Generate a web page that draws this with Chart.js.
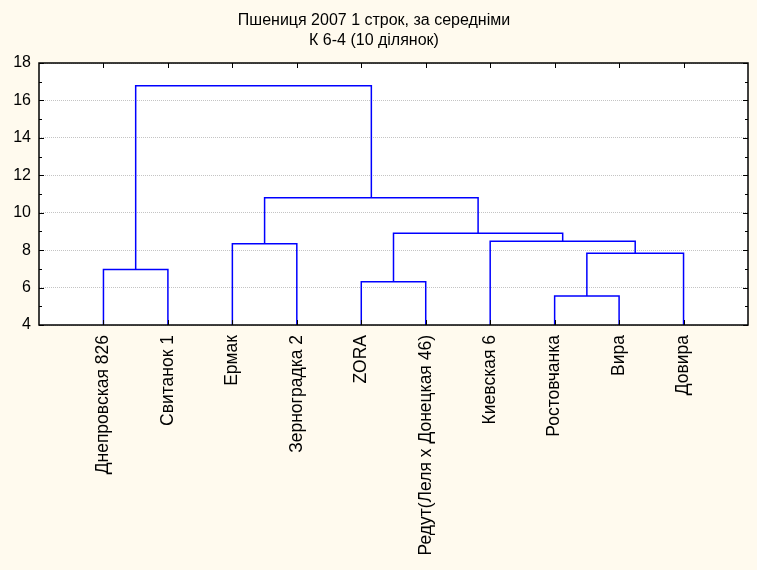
<!DOCTYPE html>
<html>
<head>
<meta charset="utf-8">
<script src="https://cdn.jsdelivr.net/npm/chart.js@4/dist/chart.umd.min.js"></script>
<style>
  html, body { margin: 0; padding: 0; background: #FFFAEE; }
  #wrap { width: 757px; height: 570px; }
</style>
</head>
<body>
<div id="wrap"><canvas id="c" width="757" height="570"></canvas></div>
<script>
// Leaves of the tree, in the order they appear along the horizontal axis
const leafLabels = [
  'Днепровская 826', 'Свитанок 1', 'Ермак', 'Зерноградка 2', 'ZORA',
  'Редут(Леля х Донецкая 46)', 'Киевская 6', 'Ростовчанка', 'Вира', 'Довира'
];

// Agglomeration steps: ids 0..9 are the leaves, step k creates cluster id 10 + k
const joinA      = [7, 4, 0, 10, 2, 6, 11, 14, 12];
const joinB      = [8, 5, 1,  9, 3, 13, 15, 16, 17];
const joinHeight = [5.55, 6.31, 6.97, 7.83, 8.34, 8.47, 8.90, 10.80, 16.78];

// Linkage distance axis
const yMin = 4, yMax = 18, yStep = 2;

const titleLines = ['Пшениця 2007 1 строк, за середніми', 'К 6-4 (10 ділянок)'];

// Position and height of every node (leaves sit at positions 1..n, at the axis floor)
const nodeX = leafLabels.map((_, i) => i + 1);
const nodeH = leafLabels.map(() => yMin);
const datasets = [];
joinA.forEach((a, k) => {
  const b = joinB[k], h = joinHeight[k];
  datasets.push({
    data: [
      { x: nodeX[a], y: nodeH[a] },
      { x: nodeX[a], y: h },
      { x: nodeX[b], y: h },
      { x: nodeX[b], y: nodeH[b] }
    ],
    showLine: true,
    borderColor: '#0000FF',
    borderWidth: 1.5,
    pointRadius: 0,
    pointHoverRadius: 0,
    tension: 0,
    fill: false
  });
  nodeX.push((nodeX[a] + nodeX[b]) / 2);
  nodeH.push(h);
});

const FONT = "'Liberation Sans', Arial, sans-serif";

// Cream page, white plotting area
const backdrop = {
  id: 'backdrop',
  beforeDraw(chart) {
    const { ctx, chartArea: a } = chart;
    ctx.save();
    ctx.fillStyle = '#FFFAEE';
    ctx.fillRect(0, 0, chart.width, chart.height);
    ctx.fillStyle = '#FFFFFF';
    ctx.fillRect(a.left, a.top, a.right - a.left, a.bottom - a.top);
    ctx.restore();
  }
};

// Black frame with inward tick marks on all four sides
const frame = {
  id: 'frame',
  afterDraw(chart) {
    const { ctx, chartArea: a, scales: { x, y } } = chart;
    ctx.save();
    ctx.strokeStyle = '#000';
    ctx.lineWidth = 1;
    ctx.beginPath();
    for (let v = yMin; v <= yMax; v += 1) {
      const py = Math.round(y.getPixelForValue(v)) + 0.5;
      const len = (v - yMin) % yStep === 0 ? 5 : 3;
      ctx.moveTo(a.left, py); ctx.lineTo(a.left + len, py);
      ctx.moveTo(a.right, py); ctx.lineTo(a.right - len, py);
    }
    for (let i = 1; i <= leafLabels.length; i++) {
      const px = Math.round(x.getPixelForValue(i)) + 0.5;
      ctx.moveTo(px, a.top); ctx.lineTo(px, a.top + 5);
      ctx.moveTo(px, a.bottom); ctx.lineTo(px, a.bottom - 5);
    }
    ctx.stroke();
    ctx.lineWidth = 1.5;
    ctx.strokeRect(Math.round(a.left), Math.round(a.top),
                   Math.round(a.right - a.left), Math.round(a.bottom - a.top));
    ctx.restore();
  }
};

new Chart(document.getElementById('c'), {
  type: 'scatter',
  data: { datasets },
  options: {
    responsive: false,
    animation: false,
    devicePixelRatio: 1,
    layout: { padding: { left: 0, right: 9, top: 0, bottom: 0 } },
    plugins: {
      legend: { display: false },
      tooltip: { enabled: false },
      title: {
        display: true,
        text: titleLines,
        color: '#000',
        font: { family: FONT, size: 16, weight: 'normal', lineHeight: 1.25 },
        padding: { top: 11, bottom: 12 }
      }
    },
    scales: {
      x: {
        type: 'linear',
        min: 0,
        max: leafLabels.length + 1,
        grid: { display: false, drawTicks: false },
        border: { display: false },
        ticks: {
          stepSize: 1,
          autoSkip: false,
          maxRotation: 90,
          minRotation: 90,
          padding: 10,
          color: '#000',
          font: { family: FONT, size: 17.5 },
          callback: v => leafLabels[v - 1] || ''
        },
        afterFit(scale) {
          scale.height = 245;
          scale.paddingLeft = 0;
          scale.paddingRight = 0;
        }
      },
      y: {
        min: yMin,
        max: yMax,
        grid: { color: '#C4C4C4', lineWidth: 1, drawTicks: false },
        border: { display: false, dash: [1, 1] },
        ticks: {
          stepSize: yStep,
          padding: 8,
          color: '#000',
          font: { family: FONT, size: 16 }
        },
        afterFit(scale) { scale.width = 39; }
      }
    }
  },
  plugins: [backdrop, frame]
});
</script>
</body>
</html>
